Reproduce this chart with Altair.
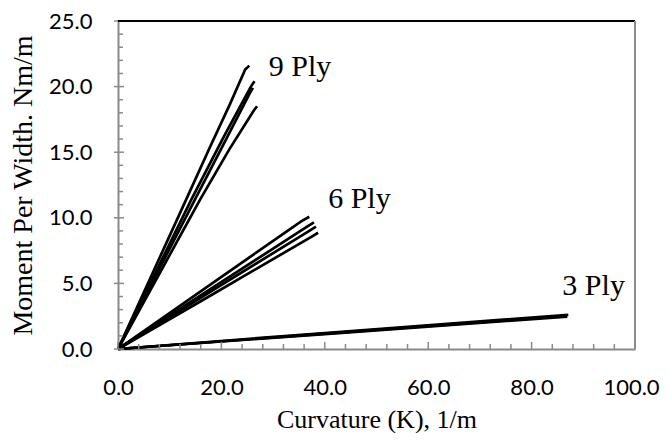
import altair as alt
import pandas as pd

# ---- data ----
x_ticks_major = [0, 20, 40, 60, 80, 100]
x_ticks_minor = [4, 8, 12, 16, 24, 28, 32, 36, 44, 48, 52, 56, 64, 68, 72, 76, 84, 88, 92, 96]
y_ticks_major = [0, 5, 10, 15, 20, 25]
y_ticks_minor = [1, 2, 3, 4, 6, 7, 8, 9, 11, 12, 13, 14, 16, 17, 18, 19, 21, 22, 23, 24]

ply9_a_x = [0, 13.2, 17.8, 21.7, 24.6, 25.4]
ply9_a_y = [0, 11.4, 15.4, 18.7, 21.3, 21.6]
ply9_b_x = [0, 14.2, 20.5, 25.7, 26.4]
ply9_b_y = [0, 11.4, 16.2, 20.0, 20.4]
ply9_c_x = [0, 14.9, 20.8, 25.5, 26.1]
ply9_c_y = [0, 11.4, 15.9, 19.5, 19.9]
ply9_d_x = [0, 15.9, 21.5, 26.3, 26.9]
ply9_d_y = [0, 11.4, 15.2, 18.2, 18.5]

ply6_a_x = [0, 18, 35.5, 37.0]
ply6_a_y = [0, 4.95, 9.75, 10.08]
ply6_b_x = [0, 18, 36.5, 37.9]
ply6_b_y = [0, 4.6, 9.3, 9.65]
ply6_c_x = [0, 18, 37.0, 38.3]
ply6_c_y = [0, 4.4, 9.0, 9.32]
ply6_d_x = [0, 18, 37.4, 38.7]
ply6_d_y = [0, 4.1, 8.55, 8.86]

ply3_a_x = [0, 40, 87.1]
ply3_a_y = [0, 1.22, 2.6]
ply3_b_x = [0, 40, 86.6]
ply3_b_y = [0, 1.17, 2.52]
ply3_c_x = [0, 40, 86.9]
ply3_c_y = [0, 1.14, 2.47]

label_text = ["9 Ply", "6 Ply", "3 Ply"]
label_x = [35.2, 46.7, 92.0]
label_y = [21.5, 11.4, 4.8]

curves = {
    "9a": (ply9_a_x, ply9_a_y), "9b": (ply9_b_x, ply9_b_y),
    "9c": (ply9_c_x, ply9_c_y), "9d": (ply9_d_x, ply9_d_y),
    "6a": (ply6_a_x, ply6_a_y), "6b": (ply6_b_x, ply6_b_y),
    "6c": (ply6_c_x, ply6_c_y), "6d": (ply6_d_x, ply6_d_y),
    "3a": (ply3_a_x, ply3_a_y), "3b": (ply3_b_x, ply3_b_y),
    "3c": (ply3_c_x, ply3_c_y),
}
rows = []
for name, (xs, ys) in curves.items():
    for i, (xv, yv) in enumerate(zip(xs, ys)):
        rows.append({"curve": name, "k": xv, "m": yv, "order": i})
df = pd.DataFrame(rows)

labels_df = pd.DataFrame({"t": label_text, "k": label_x, "m": label_y})
xmaj_df = pd.DataFrame({"k": x_ticks_major})
xmin_df = pd.DataFrame({"k": x_ticks_minor})
ymaj_df = pd.DataFrame({"m": y_ticks_major})
ymin_df = pd.DataFrame({"m": y_ticks_minor})

AXIS_GRAY = "#8a8a8a"
TICK_FONT = "Lato"
SERIF = "Times New Roman"

xscale = alt.Scale(domain=[0, 100], nice=False, zero=False)
yscale = alt.Scale(domain=[0, 25], nice=False, zero=False)

xaxis = alt.Axis(title="Curvature (K), 1/m", values=x_ticks_major, format=".1f",
                 grid=False, ticks=False, domainColor=AXIS_GRAY, domainWidth=2,
                 labelFont=TICK_FONT, labelFontSize=22, labelColor="black",
                 labelFlush=False, labelOverlap=False,
                 labelOffset={"condition": {"test": "datum.value == 100", "value": -4}, "value": 0},
                 labelPadding=28, titleFont=SERIF, titleFontSize=26,
                 titleFontWeight="normal", titleColor="black", titlePadding=8)
yaxis = alt.Axis(title="Moment Per Width. Nm/m", values=y_ticks_major, format=".1f",
                 grid=False, ticks=False, domainColor=AXIS_GRAY, domainWidth=2,
                 labelFont=TICK_FONT, labelFontSize=22, labelColor="black",
                 labelFlush=False, labelOverlap=False,
                 labelPadding=26, titleFont=SERIF, titleFontSize=28,
                 titleFontWeight="normal", titleColor="black",
                 titleX=-81, titleY=164, titleBaseline="bottom", titleAngle=270)

X = lambda: alt.X("k:Q", scale=xscale, axis=xaxis)
Y = lambda: alt.Y("m:Q", scale=yscale, axis=yaxis)

lines = alt.Chart(df).mark_line(color="black", strokeWidth=2.7).encode(
    x=X(), y=Y(), detail="curve:N", order="order:Q")

texts = alt.Chart(labels_df).mark_text(font=SERIF, fontSize=30, color="black").encode(
    x=X(), y=Y(), text="t:N")

xmaj = alt.Chart(xmaj_df).mark_rule(color=AXIS_GRAY, strokeWidth=1.5).encode(
    x=X(), y=alt.value(328), y2=alt.value(321))
xmin = alt.Chart(xmin_df).mark_rule(color=AXIS_GRAY, strokeWidth=1.5).encode(
    x=X(), y=alt.value(328), y2=alt.value(323))
ymaj = alt.Chart(ymaj_df).mark_rule(color=AXIS_GRAY, strokeWidth=1.5).encode(
    y=Y(), x=alt.value(-4), x2=alt.value(6))
ymin = alt.Chart(ymin_df).mark_rule(color=AXIS_GRAY, strokeWidth=1.5).encode(
    y=Y(), x=alt.value(0), x2=alt.value(5))

top_frame = alt.Chart(pd.DataFrame({"a": [0]})).mark_rule(color="black", strokeWidth=2).encode(
    x=alt.value(0), x2=alt.value(517), y=alt.value(0))
right_frame = alt.Chart(pd.DataFrame({"a": [0]})).mark_rule(color=AXIS_GRAY, strokeWidth=2).encode(
    x=alt.value(517), y=alt.value(0), y2=alt.value(328))

chart = alt.layer(lines, xmin, xmaj, ymin, ymaj, top_frame, right_frame, texts).properties(
    width=517, height=328,
    autosize=alt.AutoSizeParams(type="none"),
    padding={"left": 110, "top": 13, "right": 26, "bottom": 84},
).configure_view(stroke=None).configure(background="white")

chart.save("out.html", embed_options={"renderer": "svg", "actions": False})
